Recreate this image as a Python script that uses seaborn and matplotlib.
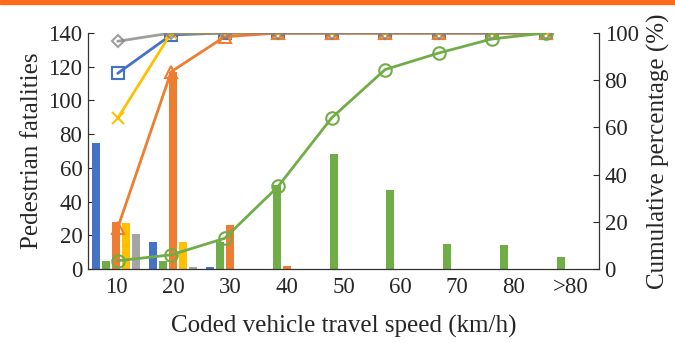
import numpy as np
import pandas as pd
import matplotlib
matplotlib.use("Agg")
import matplotlib.pyplot as plt
import seaborn as sns
from matplotlib.patches import Rectangle

# data
speeds = ["10", "20", "30", "40", "50", "60", "70", "80", ">80"]
series = ["S1", "S2", "S3", "S4", "S5"]
colors = ["#4472C4", "#70AD47", "#ED7D31", "#FFC000", "#A5A5A5"]

counts_s1 = [75, 16, 1, 0, 0, 0, 0, 0, 0]
counts_s2 = [5, 5, 16, 50, 68, 47, 15, 14, 7]
counts_s3 = [28, 117, 26, 2, 0, 0, 0, 0, 0]
counts_s4 = [27, 16, 0, 0, 0, 0, 0, 0, 0]
counts_s5 = [21, 1, 0, 0, 0, 0, 0, 0, 0]

cum_s1 = [82.9, 99.2, 100, 100, 100, 100, 100, 100, 100]
cum_s2 = [3.5, 6, 13, 35, 64, 84.5, 91.5, 97.5, 100]
cum_s3 = [17.4, 83.6, 98.4, 100, 100, 100, 100, 100, 100]
cum_s4 = [63.9, 100, 100, 100, 100, 100, 100, 100, 100]
cum_s5 = [96.5, 100, 100, 100, 100, 100, 100, 100, 100]

sns.set_theme(style="white")
plt.rcParams["font.family"] = "serif"
plt.rcParams["font.serif"] = ["Liberation Serif", "Times New Roman", "DejaVu Serif"]

bars = pd.DataFrame({
    "speed": speeds * 5,
    "series": np.repeat(series, len(speeds)),
    "count": counts_s1 + counts_s2 + counts_s3 + counts_s4 + counts_s5,
})

fig = plt.figure(figsize=(6.75, 3.43), dpi=100)
rect = [0.1304, 0.2157, 0.7570, 0.6881]
ax = fig.add_axes(rect)
sns.barplot(data=bars, x="speed", y="count", hue="series", order=speeds,
            hue_order=series, palette=colors, width=0.88, gap=0.2,
            legend=False, ax=ax, saturation=1, linewidth=0, edgecolor="none")
ax.set_xlim(-0.5, 8.5)
ax.set_ylim(0, 140)
ax.set_yticks(range(0, 141, 20))
ax.set_xlabel("Coded vehicle travel speed (km/h)", fontsize=18, labelpad=12)
ax.set_ylabel("Pedestrian fatalities", fontsize=18, labelpad=4)
ax.tick_params(axis="x", length=0, pad=6, labelsize=16.5)
ax.tick_params(axis="y", direction="in", length=4, width=0.8, pad=4,
               labelsize=16.5, left=True)
for s in ["top", "right"]:
    ax.spines[s].set_visible(False)
for s in ["left", "bottom"]:
    ax.spines[s].set_color("#333333")
    ax.spines[s].set_linewidth(0.9)

# secondary axes for the cumulative lines (own category scale)
ax2 = fig.add_axes(rect, facecolor="none")
lines = [
    (cum_s1, "#4472C4", "s", 1),
    (cum_s4, "#FFC000", "x", 1),
    (cum_s3, "#ED7D31", "^", 1),
    (cum_s5, "#7F7F7F", "D", 0.75),
    (cum_s2, "#70AD47", "o", 1),
]
for vals, c, m, a in lines:
    sns.lineplot(x=speeds, y=vals, sort=False, color=c, marker=m, ax=ax2,
                 markersize=9 if m != "D" else 6, markerfacecolor="none",
                 markeredgecolor=c, markeredgewidth=1.5, linewidth=2,
                 alpha=a)
ax2.set_xlim(-0.555, 9.0)
ax2.set_ylim(0, 100)
ax2.set_yticks(range(0, 101, 20))
ax2.set_xticks([])
ax2.yaxis.tick_right()
ax2.yaxis.set_label_position("right")
ax2.set_ylabel("Cumulative percentage (%)", fontsize=18, labelpad=6)
ax2.tick_params(axis="y", direction="in", length=4, width=0.8, pad=4,
                labelsize=16.5, right=True, left=False)
for s in ["top", "left", "bottom"]:
    ax2.spines[s].set_visible(False)
ax2.spines["right"].set_color("#333333")
ax2.spines["right"].set_linewidth(0.9)

# orange strip at the top edge
fig.patches.append(Rectangle((0, 1 - 4 / 343), 1, 4 / 343,
                             transform=fig.transFigure, color="#FF6A1A"))

fig.savefig("out.png", dpi=100)
